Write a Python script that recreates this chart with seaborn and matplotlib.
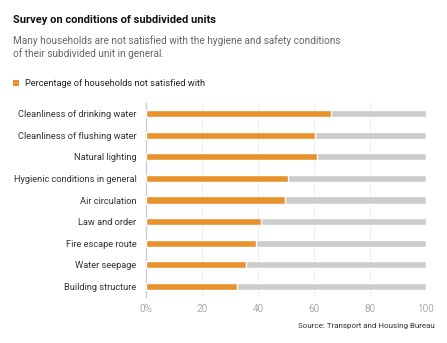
import matplotlib
matplotlib.use("Agg")
import matplotlib.pyplot as plt
import seaborn as sns
import pandas as pd
from matplotlib.patches import Rectangle

categories = ["Cleanliness of drinking water", "Cleanliness of flushing water",
              "Natural lighting", "Hygienic conditions in general", "Air circulation",
              "Law and order", "Fire escape route", "Water seepage", "Building structure"]
values = [66.1, 60.5, 61.0, 50.7, 49.6, 41.0, 39.2, 35.8, 32.6]
totals = [100] * len(categories)
xticks = [0, 20, 40, 60, 80, 100]
xticklabels = ["0%", "20", "40", "60", "80", "100"]

df = pd.DataFrame({"cat": categories, "val": values, "total": totals})

sns.set_style("white")
plt.rcParams["font.family"] = ["Roboto", "DejaVu Sans"]

fig = plt.figure(figsize=(4.47, 3.43), dpi=100)
ax = fig.add_axes([146/447, 46/343, 280/447, 194/343])

orange = "#E8922E"
grey = "#CCCCCC"
sns.barplot(data=df, y="cat", x="total", color=grey, width=0.33, ax=ax, saturation=1, zorder=2)
sns.barplot(data=df, y="cat", x="val", color=orange, width=0.33, ax=ax, saturation=1, zorder=3)

ax.set_xlim(0, 100)
ax.set_ylim(len(categories) - 0.5, -0.5)
ax.set_xticks(xticks)
ax.set_xticklabels(xticklabels)
ax.set_xlabel("")
ax.set_ylabel("")
for x in xticks[1:-1]:
    ax.axvline(x, color="#EEEEEE", lw=0.8, zorder=1)
for s in ["top", "right", "bottom"]:
    ax.spines[s].set_visible(False)
ax.spines["left"].set_color("#CCCCCC")
ax.spines["left"].set_linewidth(1.0)
ax.tick_params(axis="x", length=0, colors="#AAAAAA", labelsize=7.2, pad=5)
ax.tick_params(axis="y", length=0, colors="#333333", labelsize=6.7, pad=7)

fig.text(13/447, 1 - 20/343, "Survey on conditions of subdivided units", fontsize=8.0,
         fontweight="bold", color="#111111", va="center", ha="left")
fig.text(13/447, 1 - 41/343, "Many households are not satisfied with the hygiene and safety conditions",
         fontsize=7.2, color="#666666", va="center", ha="left")
fig.text(13/447, 1 - 54/343, "of their subdivided unit in general.",
         fontsize=7.2, color="#666666", va="center", ha="left")
fig.patches.append(Rectangle((13/447, 1 - 86/343), 6/447, 6/343, transform=fig.transFigure,
                             facecolor=orange, edgecolor="none"))
fig.text(25/447, 1 - 83/343, "Percentage of households not satisfied with", fontsize=6.7,
         color="#222222", va="center", ha="left")
fig.text(435/447, 1 - 326/343, "Source: Transport and Housing Bureau", fontsize=5.8,
         color="#333333", va="center", ha="right")

fig.savefig("out.png", dpi=100)
